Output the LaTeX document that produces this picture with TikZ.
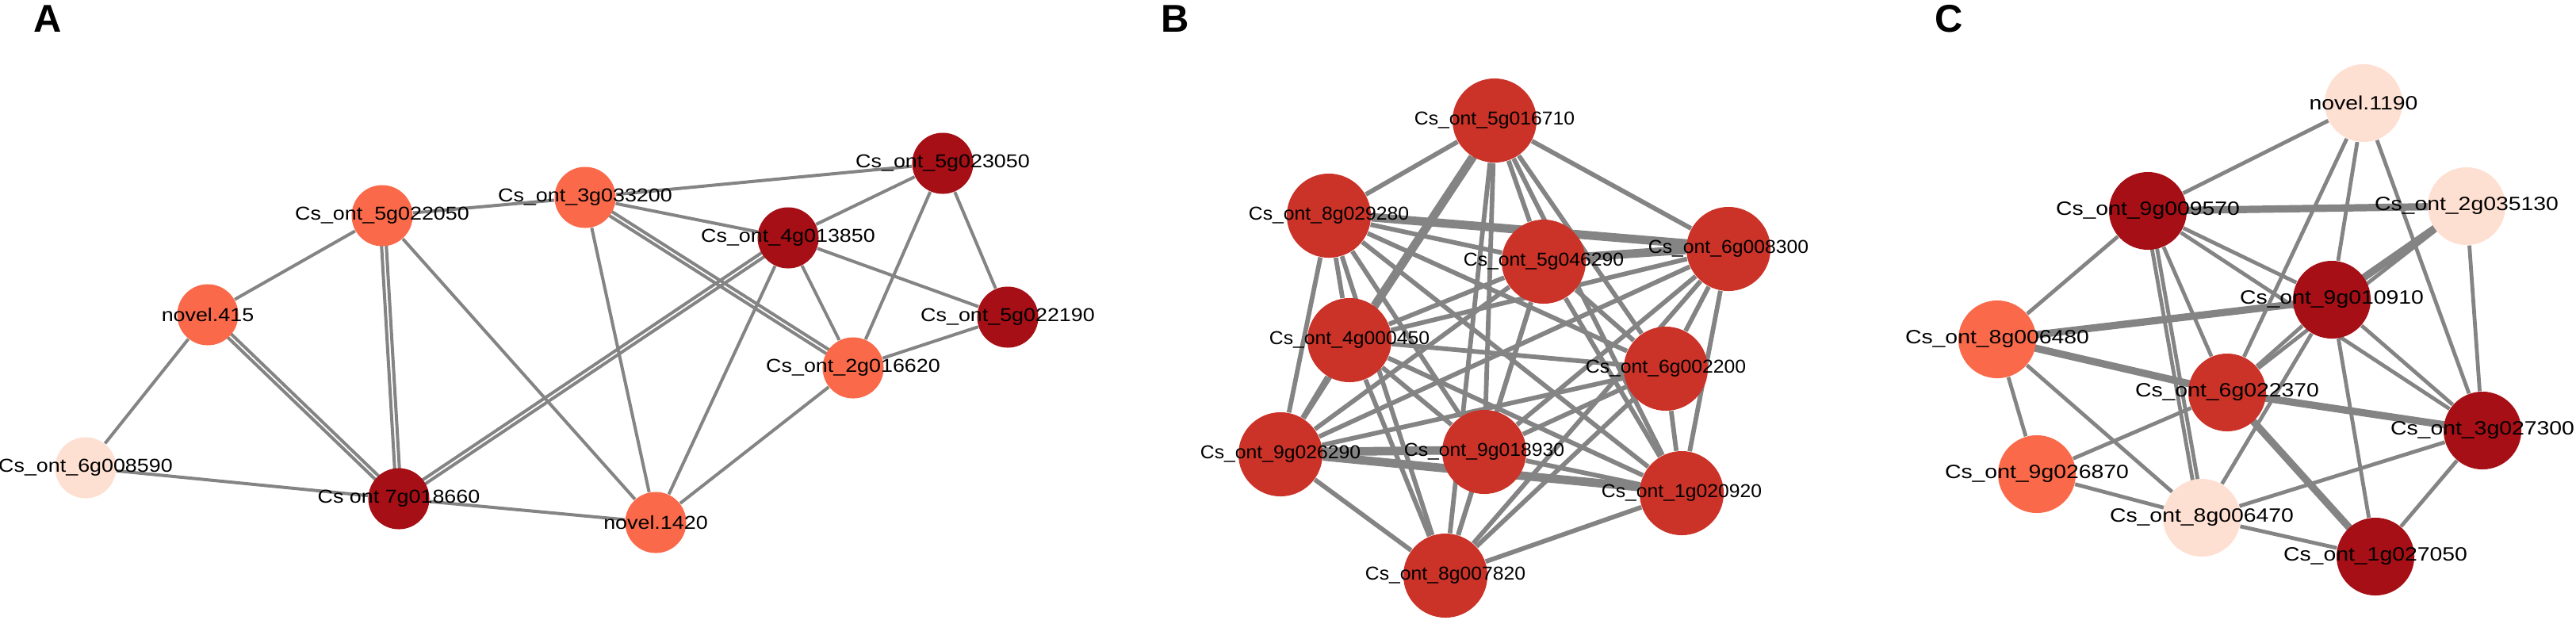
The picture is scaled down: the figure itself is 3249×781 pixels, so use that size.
\documentclass[tikz,border=0pt]{standalone}
\usepackage{fontspec}
\usepackage{graphicx}
\setmainfont{Liberation Sans}
\usetikzlibrary{calc,backgrounds}
\definecolor{salmon}{RGB}{250,105,74}
\definecolor{darkred}{RGB}{165,15,21}
\definecolor{pale}{RGB}{254,224,210}
\definecolor{midred}{RGB}{203,50,40}
\definecolor{edgegray}{RGB}{132,132,132}
\newcommand{\gstretch}{1}
\newcommand{\gname}[1]{\makebox[0pt]{\scalebox{\gstretch}[1]{#1}}}
\tikzset{
  dbl/.style={to path={($(\tikztostart)!#1!90:(\tikztotarget)$) -- ($(\tikztotarget)!#1!-90:(\tikztostart)$)
    ($(\tikztostart)!#1!-90:(\tikztotarget)$) -- ($(\tikztotarget)!#1!90:(\tikztostart)$)}},
  dbl/.default=0.03cm,
  side/.style={to path={($(\tikztostart)!#1!90:(\tikztotarget)$) -- ($(\tikztotarget)!#1!-90:(\tikztostart)$)}},
  side/.default=0.05cm
}
\begin{document}
\begin{tikzpicture}[x=0.01cm, y=-0.01cm]
	\tikzstyle{geneA} = [circle,inner sep=0pt,minimum size=0.77cm,font=\fontsize{6.7}{8}\selectfont\renewcommand{\gstretch}{1.14}]
	\tikzstyle{geneB} = [circle,inner sep=0pt,minimum size=1.06cm,fill=midred,font=\fontsize{6.7}{8}\selectfont\renewcommand{\gstretch}{1.05}]
	\tikzstyle{geneC} = [circle,inner sep=0pt,minimum size=0.98cm,font=\fontsize{6.9}{8}\selectfont\renewcommand{\gstretch}{1.17}]
	\tikzstyle{panel} = [anchor=base,inner sep=0pt,font=\bfseries\fontsize{13.9}{16}\selectfont]
	\tikzstyle{linkA} = [draw=edgegray,line width=0.04cm]
	\tikzstyle{linkB} = [draw=edgegray,line width=0.058cm]
	\tikzstyle{linkC} = [draw=edgegray,line width=0.048cm]
	\useasboundingbox (0,0) rectangle (3249,781);
	% panel letters
	\node[panel](pA)at(60,40){A};
	\node[panel](pB)at(1482,40){B};
	\node[panel](pC)at(2458,40){C};
	% A
	\node[geneA,fill=salmon](a5g022050)at(482,272){\gname{Cs\_ont\_5g022050}};
	\node[geneA,fill=salmon](a3g033200)at(738,249){\gname{Cs\_ont\_3g033200}};
	\node[geneA,fill=darkred](a4g013850)at(994,300){\gname{Cs\_ont\_4g013850}};
	\node[geneA,fill=darkred](a5g023050)at(1189,206){\gname{Cs\_ont\_5g023050}};
	\node[geneA,fill=darkred](a5g022190)at(1271,400){\gname{Cs\_ont\_5g022190}};
	\node[geneA,fill=salmon](a2g016620)at(1076,464){\gname{Cs\_ont\_2g016620}};
	\node[geneA,fill=salmon](anovel415)at(262,397){\gname{novel.415}};
	\node[geneA,fill=pale](a6g008590)at(108,590){\gname{Cs\_ont\_6g008590}};
	\node[geneA,fill=darkred](a7g018660)at(503,629){\gname{Cs ont 7g018660}};
	\node[geneA,fill=salmon](anovel1420)at(827,659){\gname{novel.1420}};
	% B
	\node[geneB](b1)at(1885,152){\gname{Cs\_ont\_5g016710}};
	\node[geneB](b2)at(1676,272){\gname{Cs\_ont\_8g029280}};
	\node[geneB](b3)at(1947,330){\gname{Cs\_ont\_5g046290}};
	\node[geneB](b4)at(2180,314){\gname{Cs\_ont\_6g008300}};
	\node[geneB](b5)at(1702,429){\gname{Cs\_ont\_4g000450}};
	\node[geneB](b6)at(2101,465){\gname{Cs\_ont\_6g002200}};
	\node[geneB](b7)at(1615,573){\gname{Cs\_ont\_9g026290}};
	\node[geneB](b8)at(1872,570){\gname{Cs\_ont\_9g018930}};
	\node[geneB](b9)at(2121,622){\gname{Cs\_ont\_1g020920}};
	\node[geneB](b10)at(1823,726){\gname{Cs\_ont\_8g007820}};
	% C
	\node[geneC,fill=pale](cnovel1190)at(2981,130){\gname{novel.1190}};
	\node[geneC,fill=darkred](c9g009570)at(2709,266){\gname{Cs\_ont\_9g009570}};
	\node[geneC,fill=pale](c2g035130)at(3111,260){\gname{Cs\_ont\_2g035130}};
	\node[geneC,fill=darkred](c9g010910)at(2941,378){\gname{Cs\_ont\_9g010910}};
	\node[geneC,fill=salmon](c8g006480)at(2519,428){\gname{Cs\_ont\_8g006480}};
	\node[geneC,fill=midred](c6g022370)at(2809,495){\gname{Cs\_ont\_6g022370}};
	\node[geneC,fill=darkred](c3g027300)at(3131,543){\gname{Cs\_ont\_3g027300}};
	\node[geneC,fill=salmon](c9g026870)at(2569,598){\raisebox{-0.05cm}{\gname{Cs\_ont\_9g026870}}};
	\node[geneC,fill=pale](c8g006470)at(2777,653){\gname{Cs\_ont\_8g006470}};
	\node[geneC,fill=darkred](c1g027050)at(2996,702){\raisebox{-0.09cm}{\gname{Cs\_ont\_1g027050}}};
	\begin{pgfonlayer}{background}
	\path[linkA] (a5g022050) edge (a3g033200)
	(a5g022050) edge (anovel415)
	(a5g022050) edge (anovel1420)
	(anovel415) edge (a6g008590)
	(a6g008590) edge (a7g018660)
	(a7g018660) edge (anovel1420)
	(a3g033200) edge (a5g023050)
	(a3g033200) edge (a4g013850)
	(a3g033200) edge (anovel1420)
	(a4g013850) edge (anovel1420)
	(a4g013850) edge (a2g016620)
	(a4g013850) edge (a5g023050)
	(a4g013850) edge (a5g022190)
	(a5g023050) edge (a2g016620)
	(a5g023050) edge (a5g022190)
	(a5g022190) edge (a2g016620)
	(anovel1420) edge (a2g016620);
	\path[linkA,dbl] (a5g022050) edge (a7g018660)
	(anovel415) edge (a7g018660)
	(a7g018660) edge (a4g013850)
	(a3g033200) edge (a2g016620);
	% B: every pair is linked
	\foreach \i in {1,...,9}{
		\pgfmathtruncatemacro{\nxt}{\i+1}
		\foreach \j in {\nxt,...,10}
			\path[linkB] (b\i) edge (b\j);
	}
	\path[linkB,side] (b7) edge (b8)
	(b3) edge (b4)
	(b2) edge (b4)
	(b7) edge (b9)
	(b1) edge (b5);
	% C
	\path[linkC] (cnovel1190) edge (c9g009570)
	(cnovel1190) edge (c6g022370)
	(cnovel1190) edge (c9g010910)
	(cnovel1190) edge (c3g027300)
	(c9g009570) edge (c8g006480)
	(c9g009570) edge (c9g010910)
	(c9g009570) edge (c3g027300)
	(c9g009570) edge (c6g022370)
	(c2g035130) edge (c6g022370)
	(c2g035130) edge (c3g027300)
	(c9g010910) edge (c6g022370)
	(c9g010910) edge (c3g027300)
	(c9g010910) edge (c1g027050)
	(c9g010910) edge (c8g006470)
	(c8g006480) edge (c9g026870)
	(c8g006480) edge (c8g006470)
	(c6g022370) edge (c9g026870)
	(c9g026870) edge (c8g006470)
	(c8g006470) edge (c3g027300)
	(c8g006470) edge (c1g027050)
	(c3g027300) edge (c1g027050);
	\path[linkC,dbl=0.022cm] (c9g009570) edge (c2g035130)
	(c2g035130) edge (c9g010910)
	(c9g010910) edge (c8g006480)
	(c8g006480) edge (c6g022370)
	(c6g022370) edge (c3g027300)
	(c6g022370) edge (c1g027050);
	\path[linkC,dbl=0.032cm] (c9g009570) edge (c8g006470);
	\end{pgfonlayer}
\end{tikzpicture}
\end{document}
